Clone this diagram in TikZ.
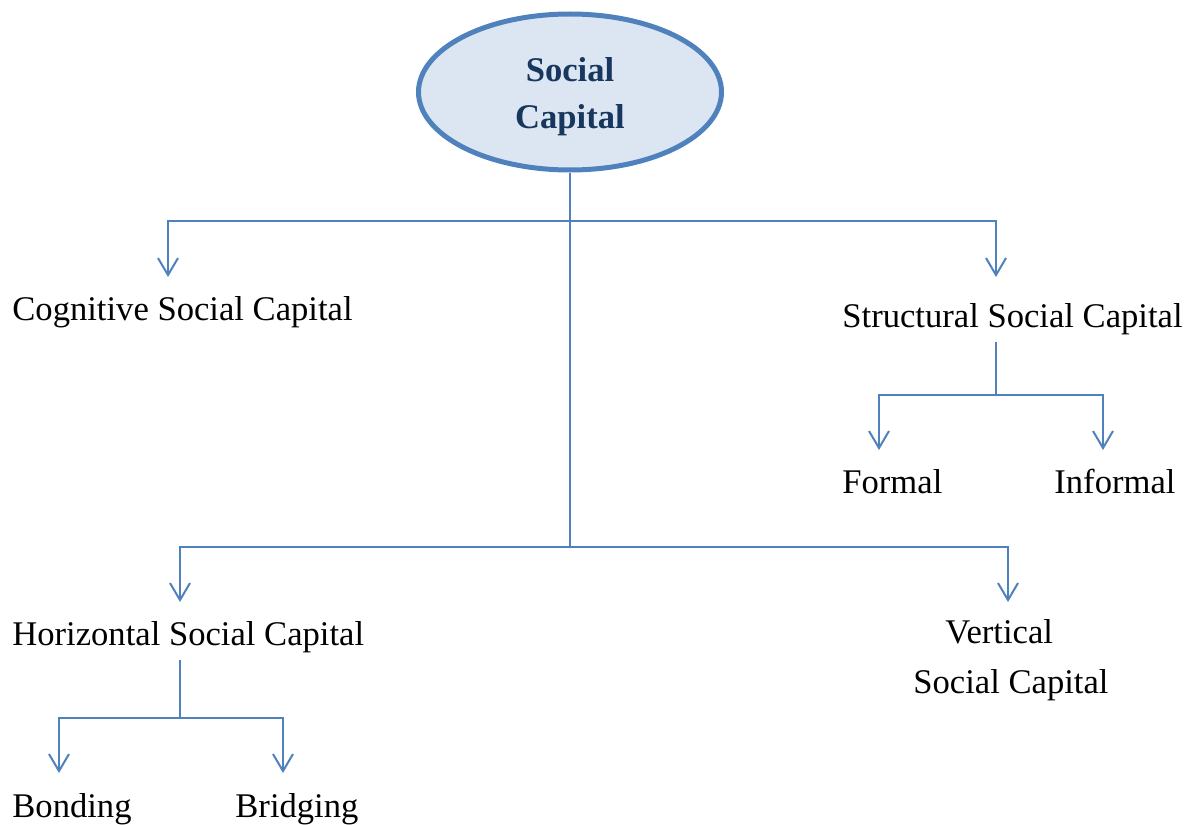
\documentclass[tikz,border=0pt]{standalone}
\usepackage{fontspec}
\setmainfont{Liberation Serif}
\usetikzlibrary{arrows.meta,shapes.geometric}
\definecolor{lineblue}{RGB}{79,129,189}
\definecolor{fillblue}{RGB}{220,230,242}
\definecolor{navy}{RGB}{23,55,94}
\begin{document}
\begin{tikzpicture}[x=0.5pt,y=-0.5pt,
  conn/.style={draw=lineblue,line width=1pt},
  arr/.style={conn,-{Straight Barb[length=8.5pt,width=10pt,line width=1pt]}},
  lbl/.style={inner xsep=0pt,inner ysep=3.5pt,anchor=base west,font=\fontsize{17.3}{25}\selectfont},
  rootnode/.style={ellipse,draw=lineblue,fill=fillblue,line width=2.5pt,minimum width=151.5pt,minimum height=78pt,inner sep=0pt,align=center,font=\fontsize{17.3}{23.5}\selectfont\bfseries,text=navy}]
\useasboundingbox (0,0) rectangle (1193,824);

% root
\node[rootnode] (root) at (570,92) {\rule{0pt}{16.8pt}Social\\Capital};

% labels
\node[lbl] (cog) at (12,320) {Cognitive Social Capital};
\node[lbl] (struct) at (842,327) {Structural Social Capital};
\node[lbl] (formal) at (842,493) {Formal};
\node[lbl] (informal) at (1054,493) {Informal};
\node[lbl] (horiz) at (12,645) {Horizontal Social Capital};
\node[lbl,align=left] (vert) at (913,693) {\hspace*{16pt}Vertical\\Social Capital};
\node[lbl] (bond) at (12,817) {Bonding};
\node[lbl] (bridge) at (235,817) {Bridging};

% junctions and arrow tips
\coordinate (j1) at (570,221);
\coordinate (j2) at (570,547);
\coordinate (cogtip) at (168,277);
\coordinate (structip) at (996,277);
\coordinate (j3) at (996,395);
\coordinate (formaltip) at (879,450);
\coordinate (informaltip) at (1103,450);
\coordinate (horiztip) at (180,602);
\coordinate (verttip) at (1008,602);
\coordinate (j4) at (180,718);
\coordinate (bondtip) at (59,773);
\coordinate (bridgetip) at (283,773);

% connectors
\draw[conn] (root.south) -- (j2);
\draw[arr] (j1) -| (cogtip);
\draw[arr] (j1) -| (structip);
\draw[conn] (struct.south -| j3) -- (j3);
\draw[arr] (j3) -| (formaltip);
\draw[arr] (j3) -| (informaltip);
\draw[arr] (j2) -| (horiztip);
\draw[arr] (j2) -| (verttip);
\draw[conn] (horiz.south -| j4) -- (j4);
\draw[arr] (j4) -| (bondtip);
\draw[arr] (j4) -| (bridgetip);
\end{tikzpicture}
\end{document}
